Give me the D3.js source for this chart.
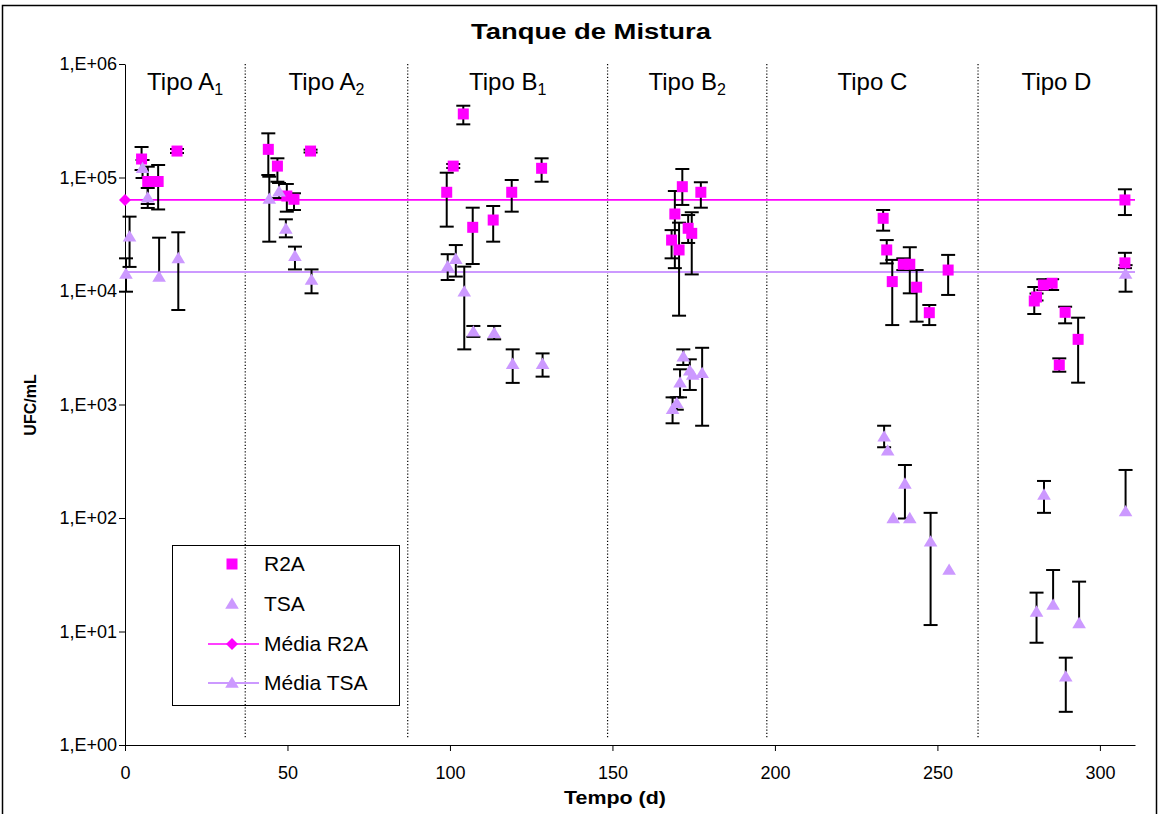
<!DOCTYPE html>
<html><head><meta charset="utf-8">
<script src="https://cdn.jsdelivr.net/npm/d3@7"></script>
<style>
body{margin:0;background:#fff}
svg{display:block}
text{font-family:"Liberation Sans",Arial,sans-serif;fill:#000}
</style>
</head><body>
<svg id="c" width="1160" height="814"></svg>
<script>
// ---------- data ----------
const title = "Tanque de Mistura";
const xTitle = "Tempo (d)";
const yTitle = "UFC/mL";
const xTicks = [0, 50, 100, 150, 200, 250, 300];
const yTicks = [1, 10, 100, 1000, 10000, 100000, 1000000];
const yTickLabels = ["1,E+00","1,E+01","1,E+02","1,E+03","1,E+04","1,E+05","1,E+06"];

const typeNames = ["Tipo A", "Tipo A", "Tipo B", "Tipo B", "Tipo C", "Tipo D"];
const typeSubs  = ["1", "2", "1", "2", "", ""];
const typeBounds = [0, 37, 87, 148.5, 197.5, 262.5, 310.8]; // days

const r2aDays = [5.1,7.0,10.2,16.0, 44.1,46.9,49.8,52.0,57.1, 99.0,101.0,104.1,107.0,113.3,119.0,128.2,
  168.2,169.2,170.5,171.5,173.3,174.4,177.2, 233.3,234.4,236.1,239.5,241.5,243.6,247.5,253.3,
  279.8,280.5,282.6,285.3,287.5,289.3,293.3, 307.7,307.7];
const r2aVals = [145500,92200,92200,171000, 177000,126000,68700,64300,171000, 74100,126000,363000,36400,42200,74100,120500,
  28100,47700,23000,83000,35700,32200,74100, 43700,23000,12100,17200,17200,10800,6440,15300,
  8170,8850,11300,11700,2230,6490,3750, 63400,17700];
const r2aHi = [185700,124500,128900,178300, 245000,147600,87700,72600,176000, 110200,131500,429000,54200,56100,95100,147600,
  34400,76000,40000,118800,46700,49400,90800, 51700,28100,18800,19400,24300,15300,7530,20800,
  10850,9500,12700,12700,2550,7270,5820, 78700,21700];
const r2aLo = [116400,58400,52300,164400, 105200,91800,50000,51700,166000, 36900,121300,294000,17300,27200,50000,91800,
  19400,15900,6060,57300,26500,14000,54200, 34000,17500,5010,15300,9540,5370,5010,9230,
  6270,8250,10200,10200,1945,5190,1557, 46700,15900];

const tsaDays = [0.3,1.4,5.4,7.0,10.5,16.4, 44.4,47.4,49.5,52.3,57.4, 99.3,101.8,104.4,107.2,113.6,119.3,128.5,
  168.5,169.8,170.8,171.8,173.8,174.7,177.6, 233.6,234.7,236.4,240.0,241.5,247.9,253.6,
  280.5,282.8,285.6,289.5,293.6, 307.9,307.9];
const tsaVals = [14100,30100,120500,66400,13300,19400, 64700,75000,35200,20300,12500, 16400,19100,9860,4380,4240,2270,2270,
  908,1025,1557,2640,1985,1820,1884, 520,392,99.3,200,99.3,61.8,34.8,
  14.9,160,17.1,4.0,11.8, 14100,114];
const tsaHi = [19400,45200,142600,80800,29500,32900, 101600,89500,42800,24600,15500, 21100,25400,16400,4920,4920,3060,2820,
  1156,1156,2042,3060,2500,null,3160, 650,null,null,293,null,111,null,
  22.0,212,34.8,5.88,27.5, 16900,265];
const tsaLo = [9860,16300,99000,53900,null,6800, 27200,65900,29700,15500,9540, 12500,13400,3060,3940,3750,1550,1760,
  683,900,1156,2230,1343,null,650, 420,null,null,99,null,11.4,null,
  7.96,111,null,1.96,null, 9860,null];

const meanR2A = 63500;
const meanTSA = 14700;
const legendLabels = ["R2A", "TSA", "Média R2A", "Média TSA"];

// ---------- chart ----------
const colR2A = "#FF00FF", colTSA = "#CC99FF";
const svg = d3.select("#c");
svg.append("rect").attr("x",2.5).attr("y",5.5).attr("width",1154).attr("height",830)
  .attr("fill","none").attr("stroke","#000").attr("stroke-width",1.5);

const x = d3.scaleLinear().domain([0, 310.8]).range([125, 1135]);
const y = d3.scaleLog().domain([1, 1e6]).range([745, 64]);

// title
svg.append("text").attr("x",591).attr("y",39).attr("text-anchor","middle")
  .attr("font-size",22).attr("font-weight","bold")
  .attr("textLength",240).attr("lengthAdjust","spacingAndGlyphs").text(title);

// dividers
const dividers = typeBounds.slice(1, -1);
svg.append("g").selectAll("line").data(dividers).join("line")
  .attr("x1",d=>x(d)).attr("x2",d=>x(d)).attr("y1",64).attr("y2",739)
  .attr("stroke","#000").attr("stroke-width",1.2).attr("stroke-dasharray","1.2,2");

// type labels
const tl = svg.append("g").selectAll("text").data(typeNames).join("text")
  .attr("x",(d,i)=>x((typeBounds[i]+typeBounds[i+1])/2))
  .attr("y",90).attr("text-anchor","middle").attr("font-size",24);
tl.append("tspan").text(d=>d);
tl.append("tspan").attr("font-size",16).attr("dy",5).text((d,i)=>typeSubs[i]);

// axes
const ya = svg.append("g").attr("transform","translate(125,0)")
  .call(d3.axisLeft(y).tickValues(yTicks).tickFormat((d,i)=>yTickLabels[i]).tickSize(6).tickSizeOuter(0).tickPadding(2));
const xa = svg.append("g").attr("transform","translate(0,745)")
  .call(d3.axisBottom(x).tickValues(xTicks).tickSize(6).tickSizeOuter(0).tickPadding(15));
[ya, xa].forEach(g=>{
  g.selectAll("path,line").attr("stroke","#000").attr("stroke-width",1);
  g.selectAll("text").attr("font-size",18).attr("font-family","Liberation Sans, Arial, sans-serif").attr("fill","#000");
});

svg.append("text").attr("x",615).attr("y",804).attr("text-anchor","middle")
  .attr("font-size",18).attr("font-weight","bold")
  .attr("textLength",102).attr("lengthAdjust","spacingAndGlyphs").text(xTitle);
svg.append("text").attr("transform","translate(36,405) rotate(-90)").attr("text-anchor","middle")
  .attr("font-size",16).attr("font-weight","bold").text(yTitle);

// mean lines
svg.append("line").attr("x1",x(0)).attr("x2",x(310.8)).attr("y1",y(meanR2A)).attr("y2",y(meanR2A))
  .attr("stroke",colR2A).attr("stroke-width",1.6);
svg.append("line").attr("x1",x(0)).attr("x2",x(310.8)).attr("y1",y(meanTSA)).attr("y2",y(meanTSA))
  .attr("stroke",colTSA).attr("stroke-width",2);

// error bars
function errBars(days, vals, hi, lo){
  const g = svg.append("g").attr("stroke","#000").attr("stroke-width",2);
  days.forEach((d,i)=>{
    const cx = x(d);
    const top = hi[i]!=null ? y(hi[i]) : y(vals[i]);
    const bot = lo[i]!=null ? y(lo[i]) : y(vals[i]);
    if (top===bot) return;
    g.append("line").attr("x1",cx).attr("x2",cx).attr("y1",top).attr("y2",bot);
    if (hi[i]!=null) g.append("line").attr("x1",cx-7).attr("x2",cx+7).attr("y1",top).attr("y2",top);
    if (lo[i]!=null) g.append("line").attr("x1",cx-7).attr("x2",cx+7).attr("y1",bot).attr("y2",bot);
  });
}
errBars(r2aDays, r2aVals, r2aHi, r2aLo);
errBars(tsaDays, tsaVals, tsaHi, tsaLo);

const triPath = "M0,-6.5L6.8,4.8L-6.8,4.8Z";
const diaPath = "M0,-6L6,0L0,6L-6,0Z";

svg.append("g").selectAll("rect").data(r2aDays).join("rect")
  .attr("x",d=>x(d)-5.5).attr("y",(d,i)=>y(r2aVals[i])-5.5).attr("width",11).attr("height",11)
  .attr("fill",colR2A);
svg.append("g").selectAll("path").data(tsaDays).join("path")
  .attr("transform",(d,i)=>`translate(${x(d)},${y(tsaVals[i])})`).attr("d",triPath).attr("fill",colTSA);
svg.append("path").attr("transform",`translate(${x(0)},${y(meanR2A)})`).attr("d",diaPath).attr("fill",colR2A);

// legend
const lg = svg.append("g");
lg.append("rect").attr("x",172.5).attr("y",545.5).attr("width",227).attr("height",160)
  .attr("fill","none").attr("stroke","#000").attr("stroke-width",1);
const rows = [564, 604, 644, 683];
lg.append("rect").attr("x",226.5).attr("y",rows[0]-5.5).attr("width",11).attr("height",11).attr("fill",colR2A);
lg.append("path").attr("transform",`translate(232,${rows[1]})`).attr("d",triPath).attr("fill",colTSA);
lg.append("line").attr("x1",208).attr("x2",259).attr("y1",rows[2]).attr("y2",rows[2]).attr("stroke",colR2A).attr("stroke-width",1.6);
lg.append("path").attr("transform",`translate(232,${rows[2]})`).attr("d",diaPath).attr("fill",colR2A);
lg.append("line").attr("x1",208).attr("x2",259).attr("y1",rows[3]).attr("y2",rows[3]).attr("stroke",colTSA).attr("stroke-width",2);
lg.append("path").attr("transform",`translate(232,${rows[3]})`).attr("d",triPath).attr("fill",colTSA);
lg.selectAll("text.l").data(legendLabels).join("text").attr("class","l")
  .attr("x",264).attr("y",(d,i)=>rows[i]).attr("dy","0.35em").attr("font-size",21).text(d=>d);
</script>
</body></html>
